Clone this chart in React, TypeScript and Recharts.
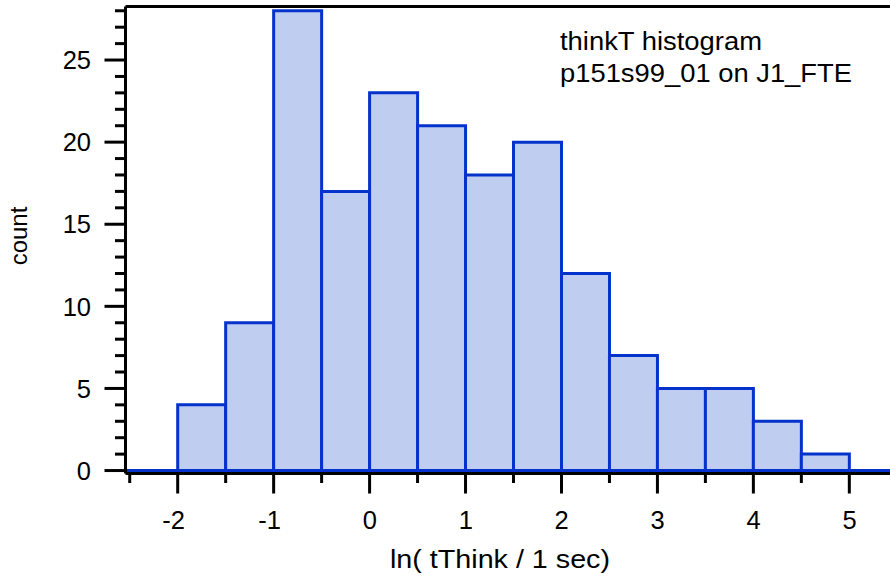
import { BarChart, Bar, XAxis, YAxis, ReferenceLine } from 'recharts';

// histogram of ln(tThink), bins 0.5 wide
const binCenters = [-1.75, -1.25, -0.75, -0.25, 0.25, 0.75, 1.25, 1.75, 2.25, 2.75, 3.25, 3.75, 4.25, 4.75];
const counts = [4, 9, 28, 17, 23, 21, 18, 20, 12, 7, 5, 5, 3, 1];

const xTicks = [-2.5, -2, -1.5, -1, -0.5, 0, 0.5, 1, 1.5, 2, 2.5, 3, 3.5, 4, 4.5, 5];
const yTicks = [0, 1, 2, 3, 4, 5, 6, 7, 8, 9, 10, 11, 12, 13, 14, 15, 16, 17, 18, 19, 20, 21, 22, 23, 24, 25, 26, 27, 28];

const xMin = -2.544;
const xMax = 5.424;
const yMin = -0.18;
const yMax = 28.26;

const FONT = '"Liberation Sans", Arial, Helvetica, sans-serif';
const FILL = '#bfcdf0';
const EDGE = '#0433cc';

const data = binCenters.map((x, i) => ({ x, count: counts[i] }));

function XTick({ x, y, payload }: any) {
  const v = payload.value;
  const major = Number.isInteger(v);
  return (
    <g>
      <line x1={x} x2={x} y1={y} y2={y + (major ? 20 : 9.5)} stroke="#000" strokeWidth={3} />
      {major && (
        <text x={x + 7.3} y={y + 55} textAnchor="end" fontSize={25.5} fontFamily={FONT} fill="#000">
          {v}
        </text>
      )}
    </g>
  );
}

function YTick({ x, y, payload }: any) {
  const v = payload.value;
  const major = v % 5 === 0;
  return (
    <g>
      <line x1={x - (major ? 21 : 10.5)} x2={x} y1={y} y2={y} stroke="#000" strokeWidth={3} />
      {major && (
        <text x={x - 34.5} y={y} dy="0.36em" textAnchor="end" fontSize={25.5} fontFamily={FONT} fill="#000">
          {v}
        </text>
      )}
    </g>
  );
}

export default function App() {
  return (
    <div style={{ position: 'absolute', left: 0, top: 0, width: 890, height: 579, overflow: 'hidden', background: '#fff' }}>
      <BarChart
        width={890}
        height={579}
        data={data}
        barCategoryGap={0}
        barGap={0}
        margin={{ top: 6.5, right: 0, bottom: 45.5, left: 0 }}
      >
        <XAxis
          type="number"
          dataKey="x"
          domain={[xMin, xMax]}
          ticks={xTicks}
          interval={0}
          allowDataOverflow
          height={60}
          tickSize={0}
          tickMargin={0}
          tick={<XTick />}
          axisLine={{ stroke: '#000', strokeWidth: 3 }}
          label={{
            content: () => (
              <text x={390} y={568} textLength={220} lengthAdjust="spacingAndGlyphs" fontSize={25} fontFamily={FONT} fill="#000">
                ln( tThink / 1 sec)
              </text>
            ),
          }}
        />
        <YAxis
          type="number"
          domain={[yMin, yMax]}
          ticks={yTicks}
          interval={0}
          allowDataOverflow
          width={125.5}
          tickSize={0}
          tickMargin={0}
          tick={<YTick />}
          axisLine={{ stroke: '#000', strokeWidth: 3 }}
          label={{
            content: () => (
              <text
                x={27}
                y={236}
                transform="rotate(-90 27 236)"
                textAnchor="middle"
                fontSize={24}
                fontFamily={FONT}
                fill="#000"
              >
                count
              </text>
            ),
          }}
        />
        <ReferenceLine
          y={yMax}
          stroke="#000"
          strokeWidth={3}
          label={{
            content: () => (
              <g fontSize={25} fontFamily={FONT} fill="#000">
                <text x={560} y={50} textLength={202} lengthAdjust="spacingAndGlyphs">thinkT histogram</text>
                <text x={560} y={81.7} textLength={292} lengthAdjust="spacingAndGlyphs">p151s99_01 on J1_FTE</text>
              </g>
            ),
          }}
        />
        <ReferenceLine segment={[{ x: xMin, y: 0 }, { x: -2, y: 0 }]} stroke={EDGE} strokeWidth={3} />
        <ReferenceLine segment={[{ x: 5, y: 0 }, { x: xMax, y: 0 }]} stroke={EDGE} strokeWidth={3} />
        <Bar dataKey="count" fill={FILL} stroke={EDGE} strokeWidth={3} isAnimationActive={false} />
      </BarChart>
    </div>
  );
}
